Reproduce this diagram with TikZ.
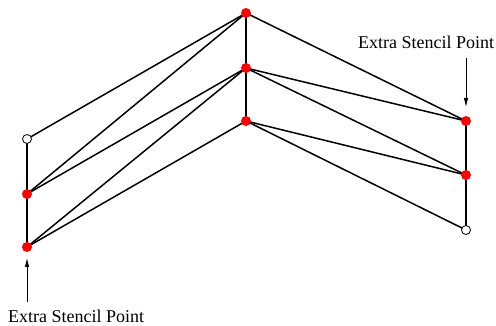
\documentclass[tikz,border=0pt]{standalone}
\usepackage{fontspec}
\setmainfont{Liberation Serif}
\usetikzlibrary{arrows.meta}
\begin{document}
\begin{tikzpicture}[x=1pt,y=-1pt,
  edge/.style={line width=1.5pt, black},
  pt/.style={circle, fill=red, inner sep=0pt, minimum size=10pt},
  openpt/.style={circle, draw=black, fill=white, line width=0.8pt, inner sep=0pt, minimum size=9pt},
  lbl/.style={font=\fontsize{18}{21}\selectfont, inner sep=0pt, anchor=base west},
  pointer/.style={-{Latex[length=9pt,width=4.5pt]}, line width=0.8pt}]
\useasboundingbox (0,0) rectangle (496,326);
% grid points
\coordinate (L1) at (27,139);
\coordinate (L2) at (27,194);
\coordinate (L3) at (27,247);
\coordinate (M1) at (246,13);
\coordinate (M2) at (246,68);
\coordinate (M3) at (246,121);
\coordinate (R1) at (466,121);
\coordinate (R2) at (466,175);
\coordinate (R3) at (466,230);
% stencil connections
\draw[edge] (L1) -- (L3);
\draw[edge] (M1) -- (M3);
\draw[edge] (R1) -- (R3);
\draw[edge] (L1) -- (M1);
\draw[edge] (L2) -- (M1);
\draw[edge] (L2) -- (M2);
\draw[edge] (L3) -- (M2);
\draw[edge] (L3) -- (M3);
\draw[edge] (M1) -- (R1);
\draw[edge] (M2) -- (R1);
\draw[edge] (M2) -- (R2);
\draw[edge] (M3) -- (R2);
\draw[edge] (M3) -- (R3);
% point markers
\node[openpt] at (L1) {};
\node[pt] at (L2) {};
\node[pt] at (L3) {};
\node[pt] at (M1) {};
\node[pt] at (M2) {};
\node[pt] at (M3) {};
\node[pt] at (R1) {};
\node[pt] at (R2) {};
\node[openpt] at (R3) {};
% labels
\node[lbl] (tl) at (358,49) {Extra Stencil Point};
\node[lbl] (bl) at (8,322) {Extra Stencil Point};
\coordinate (ta) at (466,58);
\coordinate (tb) at (466,107);
\coordinate (ba) at (27,302);
\coordinate (bb) at (27,258);
\draw[pointer] (ta) -- (tb);
\draw[pointer] (ba) -- (bb);
\end{tikzpicture}
\end{document}
